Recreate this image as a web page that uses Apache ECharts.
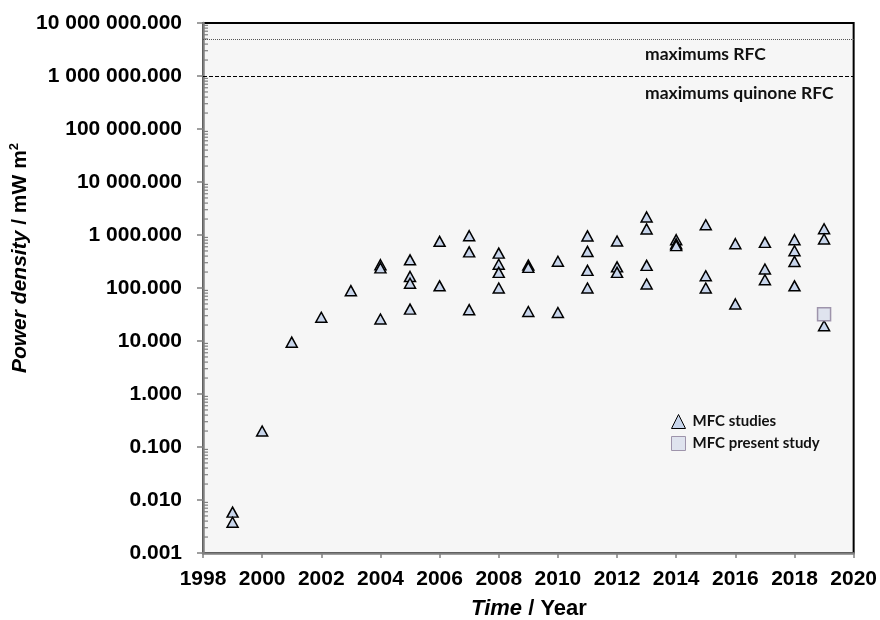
<!DOCTYPE html>
<html>
<head>
<meta charset="utf-8">
<title>MFC power density</title>
<script src="https://cdn.jsdelivr.net/npm/echarts@6/dist/echarts.min.js"></script>
<style>
  html, body { margin: 0; padding: 0; background: #ffffff; }
  #chart { width: 880px; height: 620px; }
</style>
</head>
<body>
<div id="chart"></div>
<script>
// Published MFC power densities by year (mW m^-2)
const mfcYears = [
  1999, 1999,
  2000,
  2001,
  2002,
  2003,
  2004, 2004, 2004,
  2005, 2005, 2005, 2005,
  2006, 2006,
  2007, 2007, 2007,
  2008, 2008, 2008, 2008,
  2009, 2009, 2009,
  2010, 2010,
  2011, 2011, 2011, 2011,
  2012, 2012, 2012,
  2013, 2013, 2013, 2013,
  2014, 2014, 2014,
  2015, 2015, 2015,
  2016, 2016,
  2017, 2017, 2017,
  2018, 2018, 2018, 2018,
  2019, 2019, 2019
];
const mfcPower = [
  0.0059, 0.0038,
  0.20,
  9.5,
  28,
  89,
  275, 240, 26,
  340, 165, 123, 40,
  760, 110,
  970, 480, 39,
  455, 280, 197, 100,
  270, 245, 36,
  320, 34.5,
  960, 490, 215, 100,
  770, 250, 197,
  2190, 1300, 267, 119,
  815, 685, 630,
  1560, 170, 100,
  685, 50,
  725, 228, 143,
  815, 505, 317, 110,
  1310, 840, 19.4
];

// This work
const presentYears = [2019];
const presentPower = [32];

// Reference maxima for redox flow cells
const maxRFC = 5000000;
const maxQuinoneRFC = 1000000;

// Axis ticks
const yearTicks = [1998, 2000, 2002, 2004, 2006, 2008, 2010, 2012, 2014, 2016, 2018, 2020];
const powerTicks = [0.001, 0.01, 0.1, 1, 10, 100, 1000, 10000, 100000, 1000000, 10000000];
const minorTickSteps = [2, 3, 4, 5, 6, 7, 8, 9];

const minorTickValues = [];
powerTicks.slice(0, -1).forEach(function (p) {
  minorTickSteps.forEach(function (m) { minorTickValues.push(p * m); });
});

function formatPower(v) {
  const parts = Number(v).toFixed(3).split('.');
  return parts[0].replace(/\B(?=(\d{3})+(?!\d))/g, ' ') + '.' + parts[1];
}

const ARIAL = "'Liberation Sans', Arial, sans-serif";
const CALIBRI = "Lato, 'Open Sans', sans-serif";
const AXIS_GREY = '#808080';

const chart = echarts.init(document.getElementById('chart'), null, { renderer: 'canvas' });

chart.setOption({
  animation: false,
  backgroundColor: '#ffffff',
  grid: {
    left: 203, right: 25, top: 23, bottom: 67,
    show: true,
    backgroundColor: '#f6f6f6',
    borderColor: '#000000',
    borderWidth: 2
  },
  xAxis: {
    type: 'value',
    min: yearTicks[0],
    max: yearTicks[yearTicks.length - 1],
    interval: 2,
    axisLine: { show: true, onZero: false, lineStyle: { color: AXIS_GREY, width: 2.5 } },
    axisTick: { show: true, length: 5, lineStyle: { color: AXIS_GREY, width: 1.5 } },
    splitLine: { show: false },
    axisLabel: {
      margin: 16,
      formatter: function (v) { return String(Math.round(v)); },
      fontFamily: ARIAL, fontWeight: 'bold', fontSize: 21, color: '#000000',
      showMinLabel: true, showMaxLabel: true, hideOverlap: false
    }
  },
  yAxis: {
    type: 'log',
    logBase: 10,
    min: powerTicks[0],
    max: powerTicks[powerTicks.length - 1],
    splitNumber: 10,
    axisLine: { show: true, onZero: false, lineStyle: { color: AXIS_GREY, width: 2.5 } },
    axisTick: { show: true, customValues: powerTicks, length: 6, lineStyle: { color: AXIS_GREY, width: 1.5 } },
    splitLine: { show: false },
    axisLabel: {
      customValues: powerTicks,
      margin: 21,
      formatter: formatPower,
      fontFamily: ARIAL, fontWeight: 'bold', fontSize: 21, color: '#000000',
      showMinLabel: true, showMaxLabel: true, hideOverlap: false
    }
  },
  legend: {
    orient: 'vertical',
    left: 666,
    top: 409,
    itemWidth: 14,
    itemHeight: 14,
    itemGap: 7,
    selectedMode: false,
    itemStyle: { borderWidth: 1 },
    textStyle: { fontFamily: CALIBRI, fontWeight: 'bold', fontSize: 15, color: '#111111', padding: [0, 0, 0, 2] },
    data: [
      { name: 'MFC studies', icon: 'triangle' },
      { name: 'MFC present study', icon: 'rect' }
    ]
  },
  graphic: [
    {
      type: 'text', x: 20, y: 258, rotation: Math.PI / 2, silent: true,
      style: {
        text: '{i|Power density} / mW m{s|2}',
        fontFamily: ARIAL, fontWeight: 'bold', fontSize: 21, fill: '#000000',
        textAlign: 'center', textVerticalAlign: 'middle',
        rich: {
          i: { fontFamily: ARIAL, fontWeight: 'bold', fontStyle: 'italic', fontSize: 21, fill: '#000000', lineHeight: 24 },
          s: { fontFamily: ARIAL, fontWeight: 'bold', fontSize: 13, fill: '#000000', verticalAlign: 'top', lineHeight: 24 }
        }
      }
    },
    {
      type: 'text', x: 529, y: 609, silent: true,
      style: {
        text: '{i|Time} / Year',
        fontFamily: ARIAL, fontWeight: 'bold', fontSize: 22, fill: '#000000',
        textAlign: 'center', textVerticalAlign: 'middle',
        rich: {
          i: { fontFamily: ARIAL, fontWeight: 'bold', fontStyle: 'italic', fontSize: 22, fill: '#000000' }
        }
      }
    },
    {
      type: 'text', x: 645, y: 54, silent: true,
      style: {
        text: 'maximums RFC',
        fontFamily: CALIBRI, fontWeight: 'bold', fontSize: 17.5, fill: '#111111',
        textAlign: 'left', textVerticalAlign: 'middle'
      }
    },
    {
      type: 'text', x: 645, y: 93, silent: true,
      style: {
        text: 'maximums quinone RFC',
        fontFamily: CALIBRI, fontWeight: 'bold', fontSize: 17.5, fill: '#111111',
        textAlign: 'left', textVerticalAlign: 'middle'
      }
    }
  ],
  series: [
    {
      name: 'minor ticks',
      type: 'custom',
      silent: true,
      z: 3,
      data: minorTickValues.map(function (v) { return [yearTicks[0], v]; }),
      renderItem: function (params, api) {
        const p = api.coord([api.value(0), api.value(1)]);
        return {
          type: 'line',
          shape: { x1: p[0] + 1, y1: p[1], x2: p[0] + 5, y2: p[1] },
          style: { stroke: AXIS_GREY, lineWidth: 1.2 }
        };
      }
    },
    {
      name: 'MFC studies',
      type: 'scatter',
      symbol: 'triangle',
      symbolSize: [11, 10],
      z: 4,
      itemStyle: { color: '#c8d5eb', borderColor: '#000000', borderWidth: 1.5, opacity: 1 },
      data: mfcYears.map(function (y, i) { return [y, mfcPower[i]]; }),
      markLine: {
        silent: true,
        symbol: ['none', 'none'],
        label: { show: false },
        data: [
          { yAxis: maxRFC, lineStyle: { color: '#555555', width: 1, type: [1, 1] } },
          { yAxis: maxQuinoneRFC, lineStyle: { color: '#000000', width: 1, type: [4, 2] } }
        ]
      }
    },
    {
      name: 'MFC present study',
      type: 'scatter',
      symbol: 'rect',
      symbolSize: 13,
      z: 5,
      itemStyle: { color: '#dfe3ee', borderColor: '#9e94ab', borderWidth: 1.5, opacity: 1 },
      data: presentYears.map(function (y, i) { return [y, presentPower[i]]; })
    }
  ]
});
</script>
</body>
</html>
